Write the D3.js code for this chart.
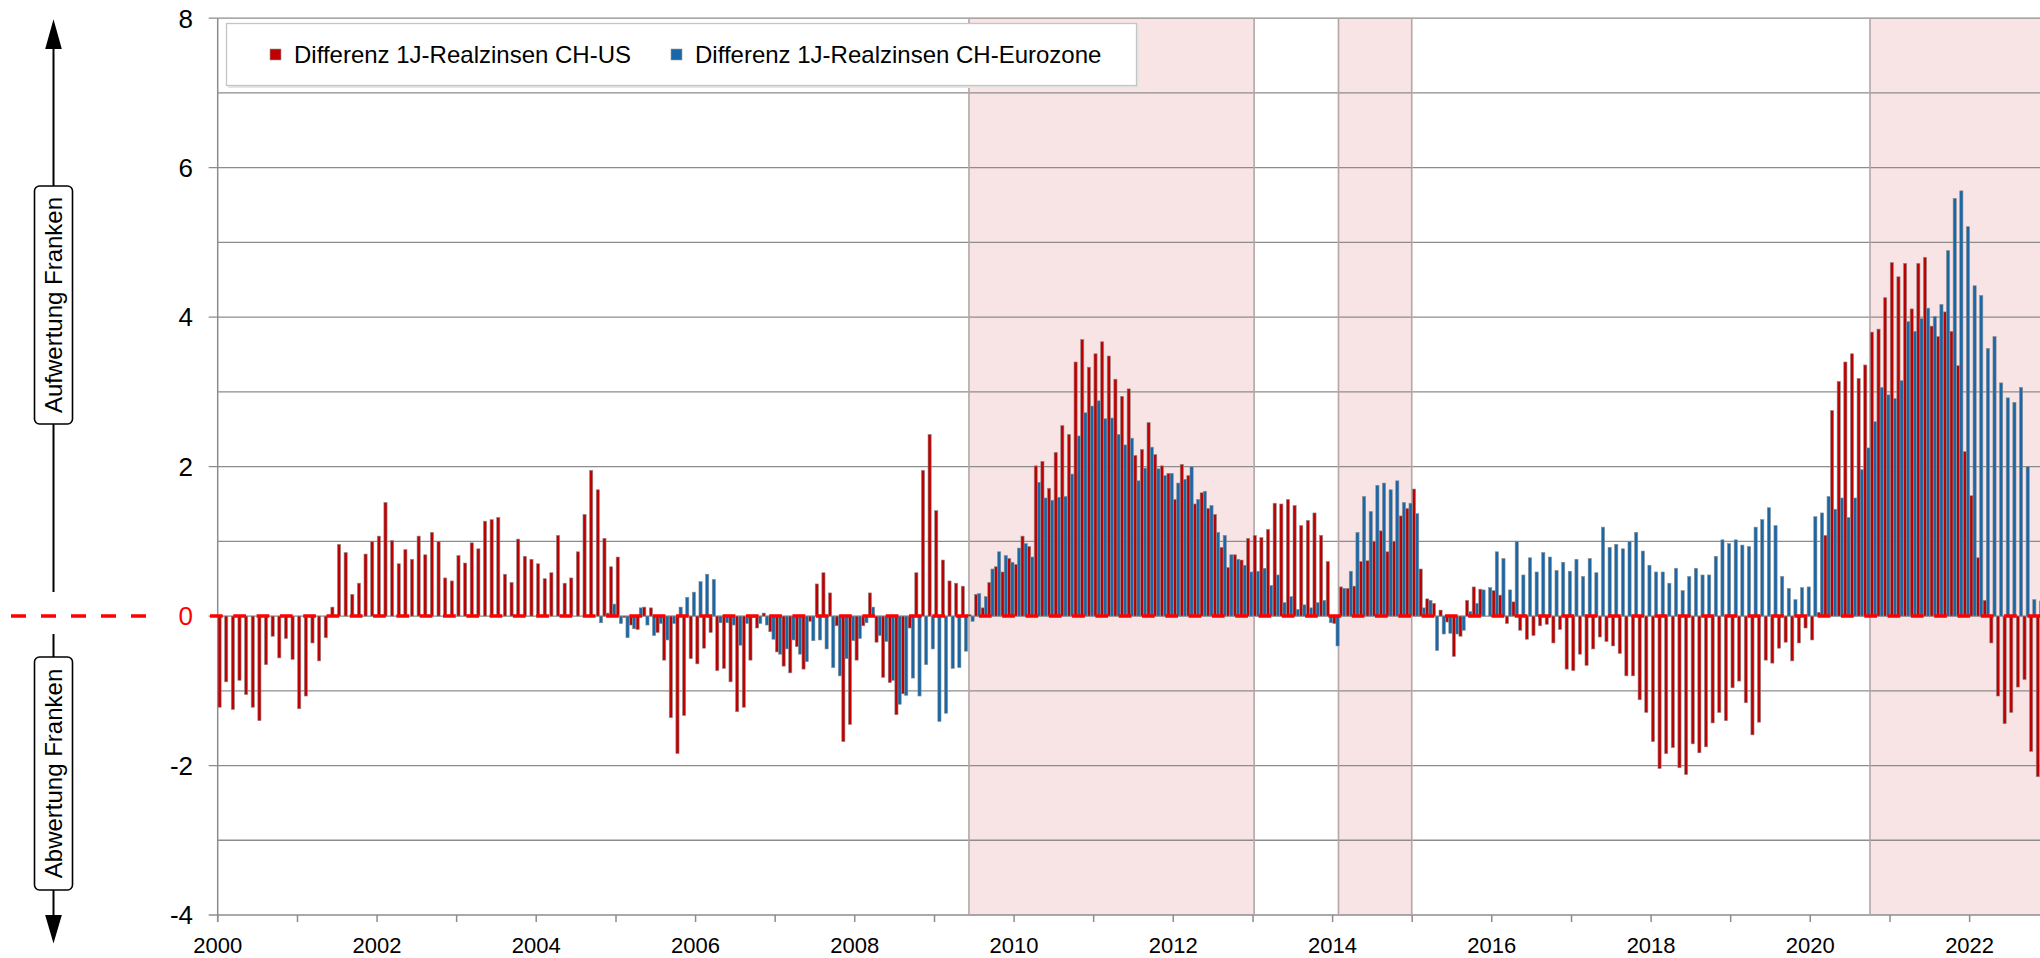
<!DOCTYPE html>
<html>
<head>
<meta charset="utf-8">
<script src="https://cdn.jsdelivr.net/npm/d3@7/dist/d3.min.js"></script>
<style>
  body { margin: 0; background: #fff; }
  svg { display: block; font-family: "Liberation Sans", Arial, sans-serif; }
</style>
</head>
<body>
<div class="chartHolder"></div>
<script>
// monthly values, first value = Jan 2000
const firstMonth = '2000-01-01'

const diffUS = [
  -1.22, -0.88, -1.25, -0.86, -1.05, -1.22, -1.40, -0.65, -0.27, -0.56, -0.30, -0.58,
  -1.24, -1.07, -0.36, -0.60, -0.29, 0.12, 0.96, 0.85, 0.29, 0.44, 0.83, 1.00,
  1.07, 1.52, 1.01, 0.70, 0.89, 0.76, 1.07, 0.82, 1.12, 1.00, 0.51, 0.47,
  0.81, 0.71, 0.98, 0.90, 1.27, 1.29, 1.32, 0.56, 0.45, 1.03, 0.80, 0.76,
  0.70, 0.50, 0.58, 1.08, 0.44, 0.51, 0.86, 1.36, 1.95, 1.69, 1.04, 0.66,
  0.79, -0.02, -0.12, -0.18, 0.12, 0.11, -0.22, -0.59, -1.36, -1.84, -1.33, -0.57,
  -0.64, -0.43, -0.22, -0.73, -0.70, -0.88, -1.28, -1.22, -0.59, -0.16, 0.04, -0.21,
  -0.48, -0.67, -0.76, -0.41, -0.71, -0.07, 0.43, 0.58, 0.31, -0.13, -1.68, -1.45,
  -0.59, -0.13, 0.31, -0.35, -0.82, -0.89, -1.32, -1.04, -0.16, 0.58, 1.95, 2.43,
  1.41, 0.75, 0.47, 0.44, 0.40, 0.02, 0.29, 0.11, 0.45, 0.66, 0.59, 0.77,
  0.69, 1.07, 0.93, 2.01, 2.07, 1.71, 2.19, 2.55, 2.43, 3.40, 3.70, 3.33,
  3.51, 3.67, 3.48, 3.17, 2.94, 3.04, 2.15, 2.23, 2.59, 2.16, 2.01, 1.91,
  1.56, 2.03, 1.88, 1.50, 1.65, 1.44, 1.36, 0.92, 0.65, 0.82, 0.75, 1.04,
  1.08, 1.05, 1.16, 1.51, 1.50, 1.56, 1.48, 1.21, 1.28, 1.38, 1.08, 0.73,
  -0.10, 0.39, 0.37, 0.40, 0.73, 0.74, 1.00, 1.14, 0.86, 1.00, 1.34, 1.44,
  1.70, 0.63, 0.23, 0.17, 0.08, -0.08, -0.54, -0.27, 0.21, 0.39, 0.36, 0.00,
  0.34, 0.28, -0.10, 0.19, -0.19, -0.31, -0.26, -0.13, -0.11, -0.36, -0.18, -0.71,
  -0.73, -0.51, -0.66, -0.44, -0.28, -0.34, -0.40, -0.50, -0.80, -0.80, -1.12, -1.29,
  -1.68, -2.04, -1.84, -1.76, -2.03, -2.12, -1.71, -1.83, -1.75, -1.43, -1.29, -1.40,
  -0.96, -0.87, -1.16, -1.59, -1.42, -0.59, -0.63, -0.43, -0.35, -0.60, -0.36, -0.16,
  -0.32, 0.05, 1.08, 2.75, 3.14, 3.40, 3.51, 3.18, 3.36, 3.80, 3.84, 4.26,
  4.73, 4.54, 4.72, 4.11, 4.72, 4.80, 3.88, 3.74, 4.07, 3.81, 3.35, 2.20,
  1.61, 0.78, 0.21, -0.36, -1.07, -1.44, -1.29, -0.95, -0.85, -1.81, -2.15
]

const n = null
const diffEZ = [
  n, n, n, n, n, n, n, n, n, n, n, n,
  n, n, n, n, n, n, n, n, n, n, n, n,
  n, n, n, n, n, n, n, n, n, n, n, n,
  n, n, n, n, n, n, n, n, n, n, n, n,
  n, n, n, n, n, n, n, n, n, -0.09, 0.04, 0.16,
  -0.10, -0.29, -0.17, 0.11, -0.12, -0.26, -0.10, -0.32, -0.10, 0.12, 0.25, 0.32,
  0.46, 0.56, 0.49, -0.09, -0.09, -0.12, -0.39, -0.10, -0.02, -0.10, -0.12, -0.31,
  -0.51, -0.44, -0.32, -0.51, -0.61, -0.33, -0.32, -0.44, -0.69, -0.80, -0.57, -0.33,
  -0.30, -0.09, 0.12, -0.26, -0.34, -0.86, -1.18, -1.06, -0.83, -1.07, -0.65, -0.44,
  -1.41, -1.30, -0.70, -0.69, -0.47, -0.07, 0.30, 0.26, 0.63, 0.86, 0.81, 0.72,
  0.91, 0.97, 0.79, 1.79, 1.58, 1.55, 1.59, 1.60, 1.90, 2.41, 2.72, 2.81,
  2.88, 2.64, 2.65, 2.43, 2.29, 2.38, 1.81, 1.98, 2.26, 1.97, 1.88, 1.91,
  1.78, 1.83, 2.00, 1.56, 1.67, 1.48, 1.12, 1.08, 0.82, 0.76, 0.68, 0.59,
  0.60, 0.64, 0.41, 0.55, 0.18, 0.26, 0.09, 0.15, 0.11, 0.18, 0.21, -0.09,
  -0.40, 0.37, 0.60, 1.12, 1.60, 1.40, 1.75, 1.78, 1.69, 1.81, 1.52, 1.51,
  1.37, 0.11, 0.21, -0.46, -0.24, -0.23, -0.24, -0.19, 0.06, 0.17, 0.35, 0.38,
  0.86, 0.77, 0.35, 1.00, 0.55, 0.78, 0.59, 0.85, 0.79, 0.61, 0.72, 0.60,
  0.76, 0.53, 0.77, 0.58, 1.19, 0.92, 0.96, 0.90, 1.00, 1.12, 0.87, 0.68,
  0.59, 0.59, 0.44, 0.64, 0.34, 0.53, 0.64, 0.55, 0.55, 0.80, 1.02, 0.97,
  1.02, 0.95, 0.93, 1.19, 1.29, 1.45, 1.21, 0.53, 0.37, 0.22, 0.38, 0.39,
  1.33, 1.38, 1.60, 1.43, 1.58, 1.32, 1.58, 1.96, 2.25, 2.60, 3.06, 2.96,
  2.91, 3.15, 3.94, 3.81, 3.98, 4.12, 4.01, 4.17, 4.89, 5.59, 5.69, 5.21,
  4.42, 4.29, 3.58, 3.74, 3.12, 2.92, 2.86, 3.06, 2.00, 0.22, 0.20
]

const seriesNames = ['Differenz 1J-Realzinsen CH-US', 'Differenz 1J-Realzinsen CH-Eurozone']
const yTickValues = [8, 6, 4, 2, 0, -2, -4]
const xTickLabels = ['2000', '2002', '2004', '2006', '2008', '2010', '2012', '2014', '2016', '2018', '2020', '2022']
const shadeFrom = ['2009-06-08', '2014-01-28', '2020-10-01']
const shadeTo = ['2013-01-06', '2014-12-30', '2023-06-30']
const upLabel = 'Aufwertung Franken'
const downLabel = 'Abwertung Franken'

const width = 2040
const height = 958
const plot = { left: 217.7, top: 18.2, bottom: 915, right: width }
const colUS = '#c00000'
const colEZ = '#1767a9'
const gridCol = '#8c8c8c'

const parse = d3.utcParse('%Y-%m-%d')
const t0 = parse(firstMonth)
const tEnd = d3.utcYear.offset(t0, 23)

var x = d3.scaleUtc()
  .domain([t0, tEnd])
  .range([plot.left, plot.left + 23 * 79.63])

var monthIdx = d3.range(d3.utcMonth.count(t0, tEnd))
var band = d3.scaleBand()
  .domain(monthIdx)
  .range(x.range())
  .padding(0)

var sub = d3.scaleBand()
  .domain(['us', 'ez'])
  .range([0.3, band.bandwidth()])
  .padding(0)

var y = d3.scaleLinear()
  .domain([-4, 8])
  .range([plot.bottom, plot.top])

var svg = d3.select('.chartHolder').append('svg')
  .attr('width', width)
  .attr('height', height)

// shaded periods
var shades = shadeFrom.map(function(d, i) {
  return { from: parse(d), to: parse(shadeTo[i]) }
})
svg.append('g').selectAll('rect')
  .data(shades)
  .enter()
  .append('rect')
  .attr('x', d => x(d.from))
  .attr('y', plot.top)
  .attr('width', d => Math.min(width, x(d.to)) - x(d.from))
  .attr('height', plot.bottom - plot.top)
  .style('fill', '#f8e4e5')

// horizontal grid
var gridVals = d3.range(-4, 9)
svg.append('g').selectAll('line')
  .data(gridVals)
  .enter()
  .append('line')
  .attr('x1', d => yTickValues.includes(d) ? plot.left - 9 : plot.left)
  .attr('x2', width)
  .attr('y1', d => y(d))
  .attr('y2', d => y(d))
  .style('stroke', gridCol)
  .style('stroke-width', 1.3)

// borders of shaded periods
var edges = []
shades.forEach(function(s) {
  edges.push(x(s.from))
  if (x(s.to) < width) edges.push(x(s.to))
})
svg.append('g').selectAll('line')
  .data(edges)
  .enter()
  .append('line')
  .attr('x1', d => d)
  .attr('x2', d => d)
  .attr('y1', plot.top)
  .attr('y2', plot.bottom)
  .style('stroke', '#b3a6a7')
  .style('stroke-width', 1.6)

// y axis line + year ticks
svg.append('line')
  .attr('x1', plot.left).attr('x2', plot.left)
  .attr('y1', plot.top).attr('y2', plot.bottom + 7)
  .style('stroke', gridCol)
  .style('stroke-width', 1.5)

var years = d3.utcYear.range(t0, tEnd)
svg.append('g').selectAll('line')
  .data(years)
  .enter()
  .append('line')
  .attr('x1', d => x(d)).attr('x2', d => x(d))
  .attr('y1', plot.bottom).attr('y2', plot.bottom + 7)
  .style('stroke', gridCol)
  .style('stroke-width', 1.5)

// bars
var barsUS = svg.append('g')
barsUS.selectAll('rect')
  .data(diffUS)
  .enter()
  .append('rect')
  .attr('x', (d, i) => band(i) + sub('us'))
  .attr('y', d => y(Math.max(0, d)))
  .attr('width', sub.bandwidth())
  .attr('height', d => Math.abs(y(d) - y(0)))
  .style('fill', colUS)
  .style('stroke', '#8e8e8e')
  .style('stroke-width', 0.6)

var barsEZ = svg.append('g')
barsEZ.selectAll('rect')
  .data(diffEZ.map((v, i) => ({ v: v, i: i })).filter(d => d.v !== null))
  .enter()
  .append('rect')
  .attr('x', d => band(d.i) + sub('ez'))
  .attr('y', d => y(Math.max(0, d.v)))
  .attr('width', sub.bandwidth())
  .attr('height', d => Math.abs(y(d.v) - y(0)))
  .style('fill', colEZ)
  .style('stroke', '#8e8e8e')
  .style('stroke-width', 0.6)

// red zero line
svg.append('line')
  .attr('x1', 210).attr('x2', width)
  .attr('y1', y(0)).attr('y2', y(0))
  .style('stroke', '#ff0000')
  .style('stroke-width', 3.5)
  .style('stroke-dasharray', '12.7,10.6')

svg.append('line')
  .attr('x1', 11).attr('x2', 150)
  .attr('y1', y(0)).attr('y2', y(0))
  .style('stroke', '#ff0000')
  .style('stroke-width', 3.5)
  .style('stroke-dasharray', '15,15')

// tick labels
svg.append('g').selectAll('text')
  .data(yTickValues)
  .enter()
  .append('text')
  .attr('x', 193)
  .attr('y', d => y(d))
  .attr('dy', '0.36em')
  .attr('text-anchor', 'end')
  .style('font-size', '26px')
  .style('fill', d => d === 0 ? '#ff0000' : '#000')
  .text(d => d)

svg.append('g').selectAll('text')
  .data(xTickLabels)
  .enter()
  .append('text')
  .attr('x', d => x(parse(d + '-01-01')))
  .attr('y', 953)
  .attr('text-anchor', 'middle')
  .style('font-size', '22px')
  .text(d => d)

// legend
var legend = svg.append('g')
legend.append('rect')
  .attr('x', 228).attr('y', 25.5)
  .attr('width', 911).attr('height', 62.5)
  .style('fill', '#e6e6e6')
legend.append('rect')
  .attr('x', 226.5).attr('y', 23.5)
  .attr('width', 910).attr('height', 62)
  .style('fill', '#fff')
  .style('stroke', '#c4c4c4')
  .style('stroke-width', 1.3)

var legX = [270, 671]
var legCol = [colUS, colEZ]
seriesNames.forEach(function(name, i) {
  legend.append('rect')
    .attr('x', legX[i]).attr('y', 49)
    .attr('width', 11).attr('height', 11)
    .style('fill', legCol[i])
    .style('stroke', '#999')
    .style('stroke-width', 0.6)
  legend.append('text')
    .attr('x', legX[i] + 24)
    .attr('y', 63)
    .style('font-size', '24px')
    .text(name)
})

// left annotation arrows
var ax = 53.5
var ann = svg.append('g')
  .style('stroke', '#000')
  .style('stroke-width', 2)

ann.append('path')
  .attr('d', `M${ax},23 L${ax - 7},48 L${ax + 7},48 Z`)
  .style('fill', '#000')
ann.append('line').attr('x1', ax).attr('x2', ax).attr('y1', 46).attr('y2', 186)
ann.append('line').attr('x1', ax).attr('x2', ax).attr('y1', 424).attr('y2', 592)
ann.append('line').attr('x1', ax).attr('x2', ax).attr('y1', 634).attr('y2', 657)
ann.append('line').attr('x1', ax).attr('x2', ax).attr('y1', 890).attr('y2', 918)
ann.append('path')
  .attr('d', `M${ax},940 L${ax - 7},916 L${ax + 7},916 Z`)
  .style('fill', '#000')

var boxes = [
  { y0: 186, y1: 424, label: upLabel },
  { y0: 657, y1: 890, label: downLabel }
]
boxes.forEach(function(b) {
  ann.append('rect')
    .attr('x', ax - 19).attr('y', b.y0)
    .attr('width', 38).attr('height', b.y1 - b.y0)
    .attr('rx', 5)
    .style('fill', '#fff')
    .style('stroke-width', 1.6)
  svg.append('text')
    .attr('transform', `translate(${ax + 8.5},${(b.y0 + b.y1) / 2}) rotate(-90)`)
    .attr('text-anchor', 'middle')
    .style('font-size', '24px')
    .text(b.label)
})
</script>
</body>
</html>
